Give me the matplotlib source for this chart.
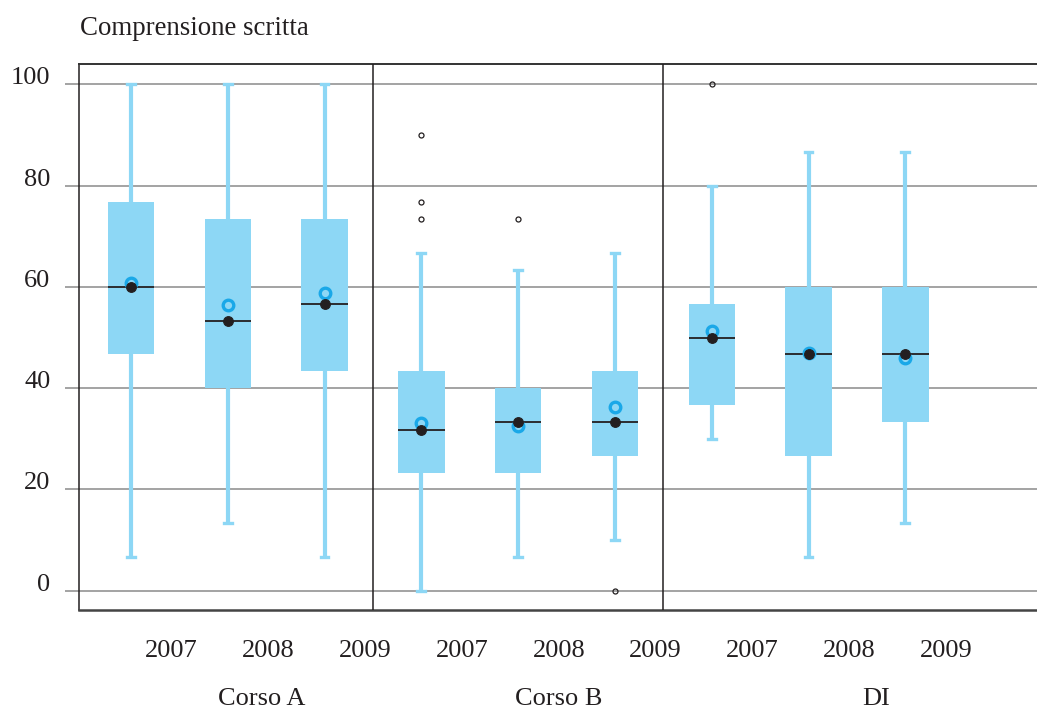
import matplotlib
matplotlib.use('Agg')
import matplotlib.pyplot as plt

# ---- data ----
groups = ['Corso A', 'Corso B', 'DI']
years = ['2007', '2008', '2009']
whislo = [6.67, 13.33, 6.67, 0.0, 6.67, 10.0, 30.0, 6.67, 13.33]
q1 = [46.67, 40.0, 43.33, 23.33, 23.33, 26.67, 36.67, 26.67, 33.33]
med = [60.0, 53.33, 56.67, 31.67, 33.33, 33.33, 50.0, 46.67, 46.67]
q3 = [76.67, 73.33, 73.33, 43.33, 40.0, 43.33, 56.67, 60.0, 60.0]
whishi = [100.0, 100.0, 100.0, 66.67, 63.33, 66.67, 80.0, 86.67, 86.67]
means = [60.7, 56.5, 58.7, 33.2, 32.6, 36.2, 51.2, 47.0, 45.9]
fliers = [[], [], [], [90.0, 76.67, 73.33], [73.33], [0.0], [100.0], [], []]
yticks = [0, 20, 40, 60, 80, 100]
title = 'Comprensione scritta'

# ---- style ----
plt.rcParams['font.family'] = ['Liberation Serif', 'DejaVu Serif']
BOX = '#8DD7F5'
MEAN = '#1AA8E8'
DARK = '#231F20'
GRID = '#8a8a8a'
FS = 19

fig = plt.figure(figsize=(10.37, 7.09), dpi=100)
ax = fig.add_axes([79 / 1037, 1 - 610 / 709, (1037 - 79) / 1037, (610 - 64) / 709])

positions = list(range(len(med)))
stats = []
for i in positions:
    stats.append(dict(whislo=whislo[i], q1=q1[i], med=med[i], q3=q3[i],
                      whishi=whishi[i], fliers=fliers[i], label=''))

ax.bxp(stats, positions=positions, widths=0.48, patch_artist=True,
       showmeans=False, capwidths=0.08,
       boxprops=dict(facecolor=BOX, edgecolor='none', linewidth=0),
       whiskerprops=dict(color=BOX, linewidth=3.0, solid_capstyle='butt'),
       capprops=dict(color=BOX, linewidth=2.4),
       medianprops=dict(color=DARK, linewidth=1.3),
       flierprops=dict(marker='o', markersize=3.6, markerfacecolor='none',
                       markeredgecolor=DARK, markeredgewidth=0.9))

ax.plot(positions, means, linestyle='none', marker='o', markersize=7.6,
        markerfacecolor='none', markeredgecolor=MEAN, markeredgewidth=2.4, zorder=4)
ax.plot(positions, med, linestyle='none', marker='o', markersize=7.0,
        markerfacecolor=DARK, markeredgecolor=DARK, markeredgewidth=0.8, zorder=5)

# separators between groups
for k in range(1, len(groups)):
    ax.axvline(k * len(years) - 0.5, color=DARK, linewidth=1.1, zorder=3)

ax.set_xlim(-0.537, 9.36)
ax.set_ylim(-3.8, 104.0)

ax.set_yticks(yticks)
ax.set_yticklabels([str(t) for t in yticks], fontsize=FS)
for lab in ax.get_yticklabels():
    lab.set_verticalalignment('baseline')
ax.tick_params(axis='y', length=10, width=1.1, color=GRID, pad=10.5, labelcolor=DARK)
ax.yaxis.grid(True, color=GRID, linewidth=1.1)
ax.set_axisbelow(True)
ax.set_xticks([])

ax.spines['right'].set_visible(False)
ax.spines['left'].set_color(DARK)
ax.spines['left'].set_linewidth(1.1)
ax.spines['top'].set_color('#333333')
ax.spines['top'].set_linewidth(1.4)
ax.spines['bottom'].set_color('#444444')
ax.spines['bottom'].set_linewidth(1.8)

trans = ax.get_xaxis_transform()
for i in positions:
    ax.text(i + 0.42, -0.086, years[i % len(years)], transform=trans,
            ha='center', va='baseline', fontsize=FS, color=DARK)

group_offsets = [0.35, 0.42, 0.70]
for g, name in enumerate(groups):
    ax.text(g * len(years) + 1 + group_offsets[g], -0.174, name, transform=trans,
            ha='center', va='baseline', fontsize=FS, color=DARK)

fig.text(80 / 1037, 1 - 35 / 709, title, ha='left', va='baseline',
         fontsize=19.4, color=DARK)

fig.savefig('out.png', dpi=100)
